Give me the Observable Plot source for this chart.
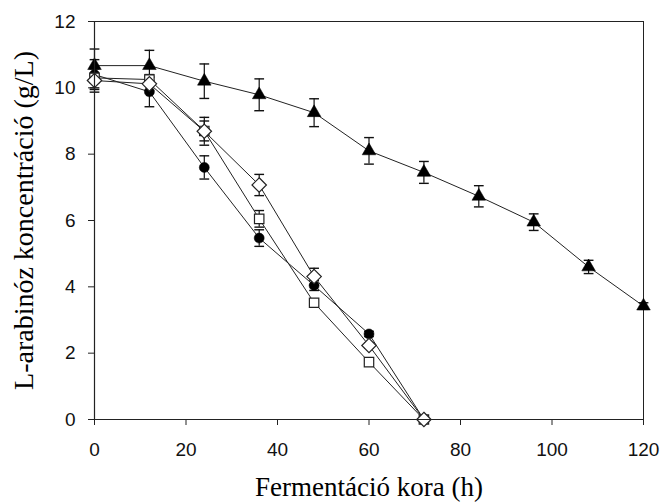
<!DOCTYPE html>
<html>
<head>
<meta charset="utf-8">
<script src="https://cdn.jsdelivr.net/npm/d3@7"></script>
<script src="https://cdn.jsdelivr.net/npm/@observablehq/plot@0.6"></script>
<style>
  html, body { margin: 0; padding: 0; background: #fff; }
  #chart { width: 660px; height: 503px; }
</style>
</head>
<body>
<div id="chart"></div>
<script>
// Time points (h)
const timeLong = [0, 12, 24, 36, 48, 60, 72, 84, 96, 108, 120];
const timeShort = [0, 12, 24, 36, 48, 60, 72];

// Series values (g/L)
const triangleVals = [10.67, 10.67, 10.2, 9.79, 9.25, 8.1, 7.45, 6.73, 5.95, 4.6, 3.42];
const triangleErr  = [0.5, 0.46, 0.52, 0.48, 0.42, 0.4, 0.33, 0.32, 0.25, 0.2, 0.1];

const circleVals = [10.4, 9.88, 7.6, 5.47, 4.04, 2.58, 0];
const circleErr  = [0.45, 0.45, 0.35, 0.25, 0.15, 0.08, 0];

const squareVals = [10.3, 10.25, 8.7, 6.05, 3.52, 1.73, 0];
const squareErr  = [0.3, 0.15, 0.3, 0.25, 0.1, 0.05, 0];

const diamondVals = [10.22, 10.12, 8.69, 7.07, 4.31, 2.23, 0];
const diamondErr  = [0.35, 0.2, 0.42, 0.32, 0.25, 0.08, 0];

const xTicks = [0, 20, 40, 60, 80, 100, 120];
const yTicks = [0, 2, 4, 6, 8, 10, 12];

const xLabel = "Fermentáció kora (h)";
const yLabel = "L-arabinóz koncentráció (g/L)";

const build = (name, times, vals, errs) =>
  times.map((t, i) => ({ series: name, t, v: vals[i], lo: vals[i] - errs[i], hi: vals[i] + errs[i], e: errs[i] }));

const triangle = build("triangle", timeLong, triangleVals, triangleErr);
const circle = build("circle", timeShort, circleVals, circleErr);
const square = build("square", timeShort, squareVals, squareErr);
const diamond = build("diamond", timeShort, diamondVals, diamondErr);
const all = [...triangle, ...circle, ...square, ...diamond];
const withErr = all.filter(d => d.e > 0);

const capSymbol = {
  draw(context, size) {
    const w = Math.sqrt(size) / 2;
    context.moveTo(-w, 0);
    context.lineTo(w, 0);
  }
};

const serif = "'Liberation Serif', 'Times New Roman', serif";
const lineStyle = { x: "t", y: "v", stroke: "#222", strokeWidth: 1 };

const plot = Plot.plot({
  width: 660,
  height: 503,
  marginLeft: 94,
  marginRight: 17,
  marginTop: 21,
  marginBottom: 84,
  style: { background: "#fff", fontFamily: "'Liberation Sans', Arial, sans-serif", fontSize: "19px" },
  x: { domain: [0, 120], ticks: xTicks },
  y: { domain: [0, 12], ticks: yTicks },
  marks: [
    Plot.frame({ stroke: "#222", strokeWidth: 1 }),
    // error bars
    Plot.ruleX(withErr, { x: "t", y1: "lo", y2: "hi", stroke: "#111", strokeWidth: 1.2 }),
    Plot.dot(withErr, { x: "t", y: "hi", symbol: capSymbol, r: 5.5, stroke: "#111", strokeWidth: 1.4, fill: "none" }),
    Plot.dot(withErr, { x: "t", y: "lo", symbol: capSymbol, r: 5.5, stroke: "#111", strokeWidth: 1.4, fill: "none" }),
    // lines
    Plot.line(triangle, lineStyle),
    Plot.line(circle, lineStyle),
    Plot.line(square, lineStyle),
    Plot.line(diamond, lineStyle),
    // markers
    Plot.dot(triangle, { x: "t", y: "v", symbol: "triangle2", r: 6.5, fill: "#000", stroke: "#000", strokeWidth: 0.5 }),
    Plot.dot(circle, { x: "t", y: "v", symbol: "circle", r: 5, fill: "#000", stroke: "#000", strokeWidth: 0.5 }),
    Plot.dot(square, { x: "t", y: "v", symbol: "square2", r: 6, fill: "#fff", stroke: "#222", strokeWidth: 1.2 }),
    Plot.dot(diamond, { x: "t", y: "v", symbol: "diamond2", r: 6.5, fill: "#fff", stroke: "#222", strokeWidth: 1.2 }),
    // axes
    Plot.axisX({ ticks: xTicks, tickSize: 6, tickPadding: 17, fontSize: 19, label: null, stroke: "#222", fill: "#111", tickFormat: d => String(d) }),
    Plot.axisY({ ticks: yTicks, tickSize: 6, tickPadding: 13, fontSize: 19, label: null, stroke: "#222", fill: "#111", tickFormat: d => String(d) }),
    Plot.ruleY([0], { stroke: "#222", strokeWidth: 1.2 }),
    Plot.ruleX([0], { stroke: "#222", strokeWidth: 1.2 }),
    Plot.text([xLabel], { frameAnchor: "bottom", textAnchor: "middle", lineAnchor: "middle", dy: 68, fontSize: 27, fontFamily: serif, fill: "#000", text: d => d }),
    Plot.text([yLabel], { frameAnchor: "left", textAnchor: "middle", lineAnchor: "middle", dx: -70, rotate: -90, fontSize: 28, fontFamily: serif, fill: "#000", text: d => d })
  ]
});

document.getElementById("chart").appendChild(plot);
</script>
</body>
</html>
